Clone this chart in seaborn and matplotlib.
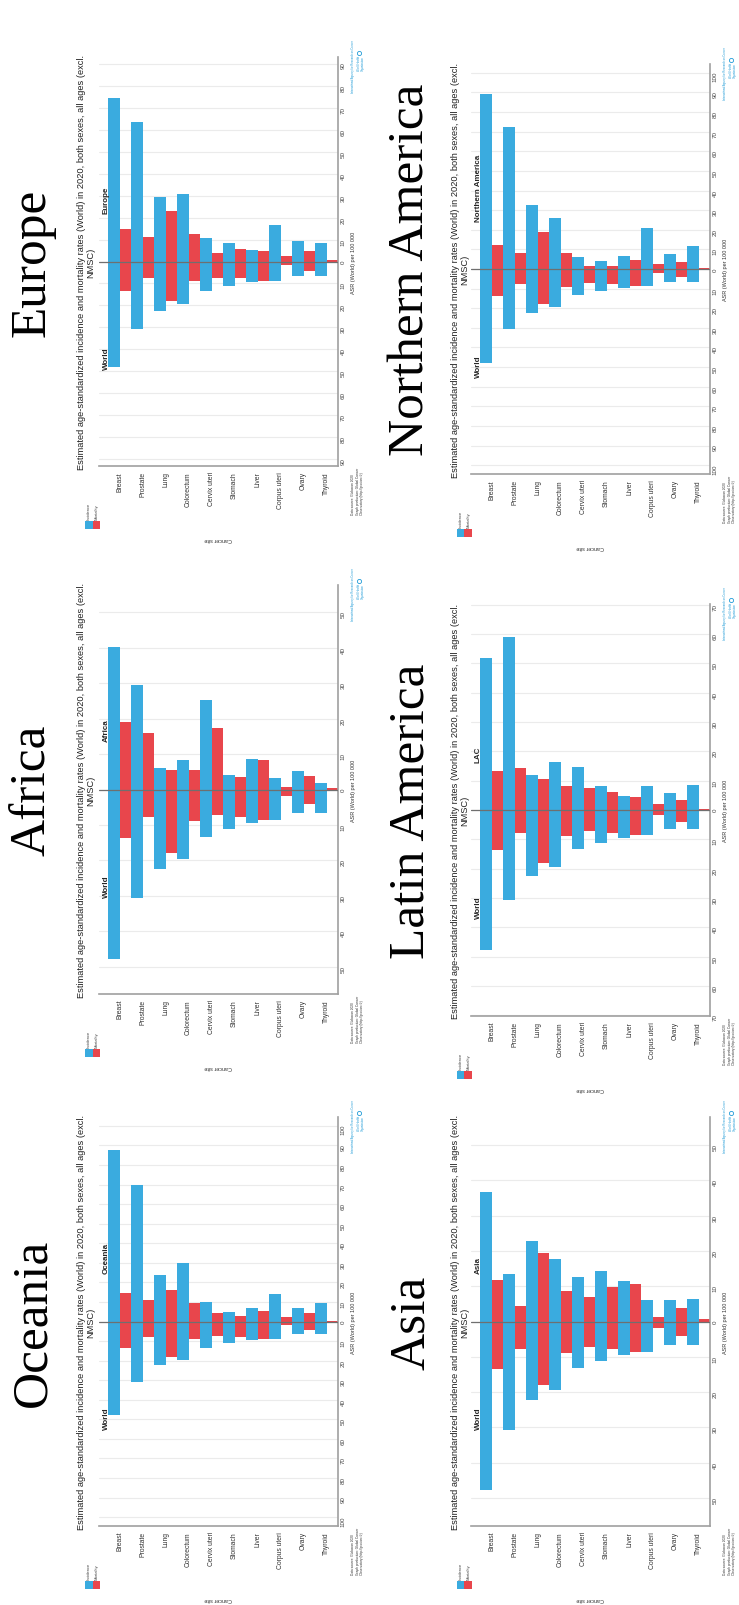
import numpy as np
import pandas as pd
import matplotlib
matplotlib.use('Agg')
import matplotlib.pyplot as plt
import seaborn as sns

# cancer sites, in the order GCO lists them (world incidence)
cancers = ['Breast', 'Prostate', 'Lung', 'Colorectum', 'Cervix uteri',
           'Stomach', 'Liver', 'Corpus uteri', 'Ovary', 'Thyroid']

# ASR (World) per 100 000
world_inc = [47.8, 30.7, 22.4, 19.5, 13.3, 11.1, 9.5, 8.7, 6.6, 6.6]
world_mort = [13.6, 7.7, 18.0, 9.0, 7.3, 7.7, 8.7, 1.8, 4.2, 0.4]

europe_inc = [74.4, 63.4, 29.3, 30.7, 10.6, 8.2, 5.2, 16.7, 9.1, 8.5]
europe_mort = [14.9, 11.1, 22.8, 12.4, 3.8, 5.5, 4.6, 2.7, 4.9, 0.6]

namerica_inc = [89.1, 72.6, 32.7, 26.2, 6.0, 4.1, 6.6, 20.7, 7.7, 11.9]
namerica_mort = [12.2, 8.0, 19.0, 8.0, 1.7, 1.5, 4.6, 2.7, 3.7, 0.3]

africa_inc = [40.2, 29.4, 6.0, 8.2, 25.3, 4.0, 8.7, 3.3, 5.2, 1.8]
africa_mort = [19.0, 16.0, 5.4, 5.4, 17.3, 3.5, 8.2, 0.8, 3.8, 0.4]

lac_inc = [52.0, 59.2, 11.8, 16.5, 14.8, 8.2, 4.7, 8.2, 5.7, 8.5]
lac_mort = [13.3, 14.2, 10.5, 8.2, 7.6, 6.3, 4.4, 1.9, 3.4, 0.5]

oceania_inc = [87.7, 70.0, 24.0, 29.8, 10.2, 4.9, 7.1, 13.8, 6.8, 9.5]
oceania_mort = [14.6, 11.1, 16.2, 9.4, 4.4, 2.6, 5.3, 2.4, 4.3, 0.5]

asia_inc = [36.7, 13.5, 22.8, 17.6, 12.6, 14.2, 11.6, 6.0, 6.1, 6.4]
asia_mort = [11.9, 4.4, 19.4, 8.6, 7.0, 9.9, 10.7, 1.3, 3.9, 0.6]

W, H = 739, 1606
BLUE = '#3aabdf'
RED = '#e8464c'
LOGO = '#1f9bd7'
SUBTITLE = ('Estimated age-standardized incidence and mortality rates (World) '
            'in 2020, both sexes, all ages (excl.\nNMSC)')


def px(x, y):
    # pixel position (from top-left) to figure fraction
    return x / W, 1 - y / H


def long_table(inc, mort, sign=1):
    return pd.DataFrame({'site': cancers * 2,
                         'measure': ['Incidence'] * 10 + ['Mortality'] * 10,
                         'asr': [sign * v for v in list(inc) + list(mort)]})


def draw_panel(fig, title, label, inc, mort, lim, tmax, col, y0, h):
    x0 = [99, 471][col]
    x1 = x0 + 239
    zero = y0 + h / 2
    ax = fig.add_axes([x0 / W, 1 - (y0 + h) / H, 239 / W, h / H])

    # region above the zero line, World below it
    for d in (long_table(inc, mort), long_table(world_inc, world_mort, -1)):
        sns.barplot(data=d, x='site', y='asr', hue='measure', order=cancers,
                    hue_order=['Incidence', 'Mortality'], palette=[BLUE, RED],
                    width=1.0, errorbar=None, legend=False, linewidth=0,
                    saturation=1, ax=ax, zorder=2)

    ax.set_xlim(-0.9, 9.5)
    ax.set_ylim(-lim, lim)
    ticks = np.arange(-tmax, tmax + 1, 10)
    ax.set_yticks(ticks)
    ax.set_yticklabels([str(abs(t)) for t in ticks])
    ax.yaxis.tick_right()
    ax.set_xticks(range(10))
    ax.set_xticklabels(cancers)
    ax.tick_params(axis='y', length=0, pad=2, labelsize=4.5,
                   labelrotation=90, labelcolor='#444444')
    ax.tick_params(axis='x', length=0, pad=3.6, labelsize=4.9,
                   labelrotation=90, labelcolor='#333333')
    ax.set_xlabel('')
    ax.set_ylabel('')
    ax.grid(axis='y', color='#ebebeb', lw=0.8)
    ax.set_axisbelow(True)
    ax.axhline(0, color='#6f6f6f', lw=0.9, zorder=3)
    for s in ('left', 'top'):
        ax.spines[s].set_visible(False)
    for s in ('right', 'bottom'):
        ax.spines[s].set_color('#a0a0a0')
        ax.spines[s].set_linewidth(1.2)

    # big serif title
    fig.text(*px([45, 424][col], zero), title, rotation=90,
             rotation_mode='anchor', ha='center', va='baseline',
             fontsize=37, family='Liberation Serif', color='black')
    # original GCO chart title
    fig.text(*px([86, 460][col], zero), SUBTITLE, rotation=90, ha='center',
             va='center', multialignment='center', fontsize=6.7,
             linespacing=1.05, color='#222222')
    # region / World labels
    fig.text(*px(x0 + 9, zero - 48), label, rotation=90, rotation_mode='anchor',
             ha='left', va='baseline', fontsize=5.8, weight='bold')
    fig.text(*px(x0 + 9, zero + 85), 'World', rotation=90,
             rotation_mode='anchor', ha='right', va='baseline', fontsize=5.8,
             weight='bold')
    # axis titles
    fig.text(*px(x1 + 16, zero), 'ASR (World) per 100 000', rotation=90,
             ha='center', va='center', fontsize=4, color='#333333')
    fig.text(*px(x0 + 119.5, y0 + h + 73), 'Cancer site', rotation=180,
             ha='center', va='center', fontsize=4, color='#333333')

    # legend
    lx, ly = x0 - 14, y0 + h + 55
    for i, (c, name) in enumerate([(BLUE, 'Incidence'), (RED, 'Mortality')]):
        fig.add_artist(plt.Rectangle(px(lx + 7.5 * i, ly + 8), 7.5 / W, 8 / H,
                                     transform=fig.transFigure, color=c, lw=0))
        fig.text(*px(lx + 7.5 * i + 3.75, ly - 2), name, rotation=90,
                 rotation_mode='anchor', ha='left', va='center', fontsize=3.0,
                 color='#444444')

    # source note and logos
    fig.text(*px(x1 + 13, y0 + h + 48),
             'Data source: Globocan 2020\nGraph production: Global Cancer\n'
             'Observatory (http://gco.iarc.fr)', rotation=90,
             rotation_mode='anchor', ha='left', va='top', fontsize=2.3,
             color='#333333', linespacing=1.2)
    fig.text(*px(x1 + 13, y0 - 18),
             'International Agency for Research on Cancer', rotation=90,
             rotation_mode='anchor', ha='right', va='top', fontsize=1.9,
             color=LOGO)
    fig.text(*px(x1 + 19, y0 - 2), 'World Health\nOrganization', rotation=90,
             rotation_mode='anchor', ha='right', va='top', fontsize=1.9,
             color=LOGO, linespacing=1.1)
    fig.add_artist(plt.Line2D([px(x1 + 21, 0)[0]], [px(0, y0 - 4)[1]],
                              marker='o', ms=3, mfc='none', mec=LOGO, mew=0.6,
                              transform=fig.transFigure))


sns.set_style('white')
plt.rcParams['font.family'] = ['Liberation Sans', 'DejaVu Sans']

fig = plt.figure(figsize=(W / 100, H / 100), dpi=100)
fig.patch.set_facecolor('white')

draw_panel(fig, 'Europe', 'Europe', europe_inc, europe_mort, 93, 90, 0, 58, 409)
draw_panel(fig, 'Northern America', 'Northern America', namerica_inc,
           namerica_mort, 104.5, 100, 1, 65, 410)
draw_panel(fig, 'Africa', 'Africa', africa_inc, africa_mort, 57.7, 50, 0, 586, 409)
draw_panel(fig, 'Latin America', 'LAC', lac_inc, lac_mort, 70.3, 70, 1, 605, 412)
draw_panel(fig, 'Oceania', 'Oceania', oceania_inc, oceania_mort, 104.5, 100, 0,
           1118, 409)
draw_panel(fig, 'Asia', 'Asia', asia_inc, asia_mort, 58, 50, 1, 1118, 409)

fig.savefig('out.png', dpi=100, facecolor='white')
